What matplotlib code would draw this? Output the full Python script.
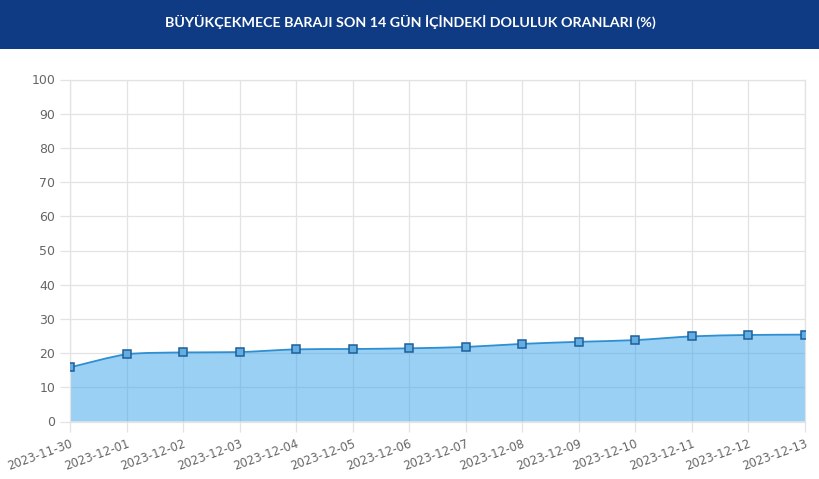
import matplotlib
matplotlib.use('Agg')
import matplotlib.pyplot as plt
import numpy as np
from matplotlib.path import Path
from matplotlib.patches import PathPatch, Rectangle

## data
dates = ['2023-11-30', '2023-12-01', '2023-12-02', '2023-12-03', '2023-12-04',
         '2023-12-05', '2023-12-06', '2023-12-07', '2023-12-08', '2023-12-09',
         '2023-12-10', '2023-12-11', '2023-12-12', '2023-12-13']
doluluk = [15.85, 19.65, 20.2, 20.3, 21.1, 21.2, 21.4, 21.8, 22.7, 23.3,
           23.8, 24.9, 25.3, 25.4]
title = 'BÜYÜKÇEKMECE BARAJI SON 14 GÜN İÇİNDEKİ DOLULUK ORANLARI (%)'

fig = plt.figure(figsize=(8.2, 4.79), dpi=100)
fig.patches.append(Rectangle((0, 1 - 49 / 479), 1, 49 / 479, transform=fig.transFigure,
                             facecolor='#0f3b85', edgecolor='none', zorder=0))
fig.text(0.5, 1 - 22 / 479, title, color='white', fontsize=10.3, fontweight='bold',
         family=['Lato', 'DejaVu Sans'], ha='center', va='center')

ax = fig.add_axes([70 / 820, 1 - 421.5 / 479, 735 / 820, 342 / 479])
x = np.arange(len(dates))
y = np.array(doluluk)

# chart.js style bezier, worked out in pixel-ish units
sx, sy = 56.5, 3.42
px, py = x * sx, y * sy
tension = 0.25
verts = [(x[0], y[0])]
codes = [Path.MOVETO]
cp_prev = []
cp_next = []
for i in range(len(x)):
    a = max(i - 1, 0)
    b = min(i + 1, len(x) - 1)
    d01 = np.hypot(px[i] - px[a], py[i] - py[a])
    d12 = np.hypot(px[b] - px[i], py[b] - py[i])
    tot = d01 + d12 if d01 + d12 > 0 else 1
    fa = tension * d01 / tot
    fb = tension * d12 / tot
    dx, dy = px[b] - px[a], py[b] - py[a]
    cp_prev.append(((px[i] - fa * dx) / sx, (py[i] - fa * dy) / sy))
    cp_next.append(((px[i] + fb * dx) / sx, (py[i] + fb * dy) / sy))
for i in range(1, len(x)):
    verts += [cp_next[i - 1], cp_prev[i], (x[i], y[i])]
    codes += [Path.CURVE4] * 3

line_path = Path(verts, codes)
fill_path = Path(verts + [(x[-1], 0), (x[0], 0), (x[0], y[0])],
                 codes + [Path.LINETO, Path.LINETO, Path.CLOSEPOLY])

ax.add_patch(PathPatch(fill_path, facecolor=(54 / 255, 162 / 255, 235 / 255, 0.5),
                       edgecolor='none', zorder=2))
ax.add_patch(PathPatch(line_path, facecolor='none', edgecolor='#2f8fd0', lw=1.3, zorder=3))
ax.plot(x, y, ls='none', marker='s', markersize=5.8, markerfacecolor='#62aee3',
        markeredgecolor='#1f5f99', markeredgewidth=1.1, zorder=4)

ax.set_xlim(0, 13)
ax.set_ylim(0, 100)
ax.set_yticks(np.arange(0, 101, 10))
ax.set_xticks(x)
ax.set_xticklabels(dates, rotation=20, ha='right', rotation_mode='anchor')
ax.grid(True, color='#e3e3e3', lw=0.9, zorder=1)
ax.set_axisbelow(True)
for s in ax.spines.values():
    s.set_color('#e3e3e3')
    s.set_linewidth(0.9)
ax.tick_params(axis='both', colors='#e3e3e3', length=7, width=0.9, labelcolor='#666666',
               labelsize=9)
ax.tick_params(axis='x', pad=4, labelsize=8.5)

plt.savefig('out.png', dpi=100)
